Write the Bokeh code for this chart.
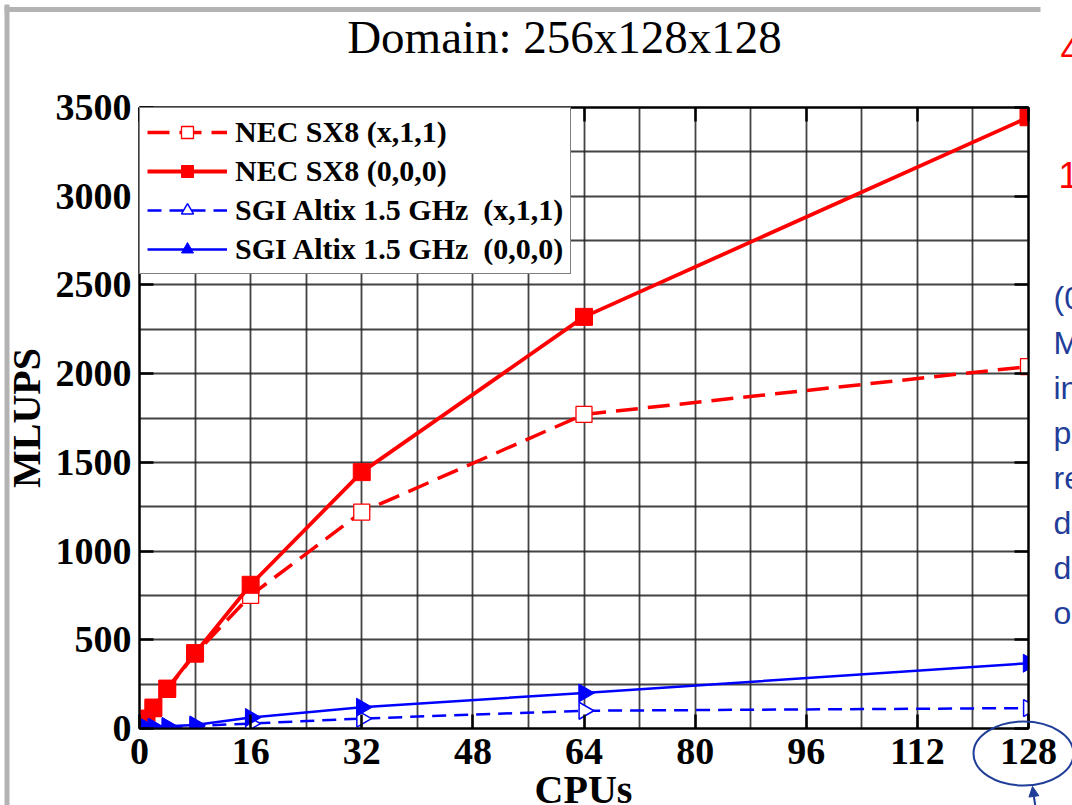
import numpy as np
from bokeh.plotting import figure
from bokeh.layouts import column
from bokeh.models import (Range1d, FixedTicker, LinearAxis, Legend, LegendItem,
                          GridBox, Arrow, NormalHead)
from bokeh.embed import file_html
from bokeh.resources import INLINE
from bokeh.core.properties import value

# ---- data ----
cpus = [1, 2, 4, 8, 16, 32, 64, 128]
nec_x11 = [52, 112, 220, 420, 750, 1220, 1770, 2040]
nec_000 = [56, 118, 225, 425, 810, 1445, 2320, 3445]
sgi_x11 = [2, 4, 7, 14, 28, 56, 100, 115]
sgi_000 = [4, 8, 12, 20, 62, 120, 200, 368]

x_ticks = [0, 16, 32, 48, 64, 80, 96, 112, 128]
x_minor = [8, 24, 40, 56, 72, 88, 104, 120]
y_ticks = [0, 500, 1000, 1500, 2000, 2500, 3000, 3500]
y_minor = [250, 750, 1250, 1750, 2250, 2750, 3250]

labels = ["NEC SX8 (x,1,1)", "NEC SX8 (0,0,0)",
          "SGI Altix 1.5 GHz  (x,1,1)", "SGI Altix 1.5 GHz  (0,0,0)"]
title_text = "Domain: 256x128x128"
xlabel_text = "CPUs"
side_red = ["4", "1"]
side_blue = ["(0", "M", "in", "p", "re", "d", "d", "o"]

SERIF = "Liberation Serif"
SANS = "Liberation Sans"
RED = "#ff0000"
BLUE = "#0000ff"
NAVY = "#1f3d99"
W, H = 1072, 805

# ---------------- main chart ----------------
p = figure(width=W, height=H, x_range=Range1d(0, 128), y_range=Range1d(0, 3500),
           output_backend="svg", toolbar_location=None,
           min_border_left=137, min_border_right=44, min_border_top=107, min_border_bottom=77,
           background_fill_color="white", border_fill_color="white",
           outline_line_color="black", outline_line_width=2)

for ax in p.xaxis + p.yaxis:
    ax.major_tick_in = 14
    ax.major_tick_out = 0
    ax.minor_tick_in = 0
    ax.minor_tick_out = 0
    ax.major_tick_line_width = 2.5
    ax.major_tick_line_color = "black"
    ax.axis_line_color = "black"
    ax.axis_line_width = 2
    ax.major_label_text_font = SERIF
    ax.major_label_text_font_style = "bold"
    ax.major_label_text_font_size = "38px"
    ax.major_label_text_color = "black"

p.xaxis.ticker = FixedTicker(ticks=x_ticks, minor_ticks=x_minor)
p.yaxis.ticker = FixedTicker(ticks=y_ticks, minor_ticks=y_minor)
p.xaxis.major_label_standoff = 10
p.yaxis.major_label_standoff = 8
p.yaxis.axis_label = "MLUPS"
p.yaxis.axis_label_standoff = 4
p.yaxis.axis_label_text_font = SERIF
p.yaxis.axis_label_text_font_style = "bold"
p.yaxis.axis_label_text_font_size = "40px"
p.yaxis.axis_label_text_color = "black"

# mirrored axes: inward ticks only, labels not drawn
for loc, tick, minor in (("right", y_ticks, y_minor), ("above", x_ticks, x_minor)):
    a = LinearAxis(ticker=FixedTicker(ticks=tick, minor_ticks=minor),
                   major_tick_in=14, major_tick_out=0, minor_tick_in=0, minor_tick_out=0,
                   major_tick_line_width=2.5, axis_line_width=2,
                   major_label_text_font_size="8px", major_label_text_color=None,
                   major_label_standoff=0)
    p.add_layout(a, loc)

for g in (p.xgrid[0], p.ygrid[0]):
    g.grid_line_color = "#222222"
    g.grid_line_width = 1.8
    g.grid_line_alpha = 0.85
    g.minor_grid_line_color = "#222222"
    g.minor_grid_line_width = 1.8
    g.minor_grid_line_alpha = 0.85
p.xgrid.ticker = FixedTicker(ticks=x_ticks, minor_ticks=x_minor)
p.ygrid.ticker = FixedTicker(ticks=y_ticks, minor_ticks=y_minor)

l1 = p.line(cpus, nec_x11, line_color=RED, line_width=3.5, line_dash="22 10")
m1 = p.scatter(cpus, nec_x11, marker="square", size=16, fill_color="white",
               line_color=RED, line_width=1.3)
l2 = p.line(cpus, nec_000, line_color=RED, line_width=3.8)
m2 = p.scatter(cpus, nec_000, marker="square", size=17, fill_color=RED, line_color=RED)
l3 = p.line(cpus, sgi_x11, line_color=BLUE, line_width=2.5, line_dash="14 8")
m3 = p.scatter(cpus, sgi_x11, marker="triangle", angle=-np.pi / 2, size=17,
               fill_color="white", line_color=BLUE, line_width=1.5)
l4 = p.line(cpus, sgi_000, line_color=BLUE, line_width=2.5)
m4 = p.scatter(cpus, sgi_000, marker="triangle", angle=-np.pi / 2, size=18,
               fill_color=BLUE, line_color=BLUE)

legend = Legend(items=[LegendItem(label=labels[0], renderers=[l1, m1]),
                       LegendItem(label=labels[1], renderers=[l2, m2]),
                       LegendItem(label=labels[2], renderers=[l3, m3]),
                       LegendItem(label=labels[3], renderers=[l4, m4])],
                location="top_left", margin=0, padding=7, spacing=5,
                glyph_width=80, glyph_height=30, label_height=30, label_standoff=8,
                label_text_font=SERIF, label_text_font_style="bold",
                label_text_font_size="30px", label_text_color="black",
                border_line_color="black", border_line_width=1.5,
                background_fill_color="white", background_fill_alpha=1)
p.add_layout(legend)

# ---------------- transparent overlay for page texts / decorations ----------------
# its frame covers the whole window; one unit = one pixel, y measured from the top
q = figure(width=W, height=H, x_range=Range1d(0, W), y_range=Range1d(H, 0),
           output_backend="svg", toolbar_location=None,
           min_border=0, background_fill_alpha=0, border_fill_alpha=0,
           outline_line_color=None)
q.axis.visible = False
q.grid.visible = False

q.text(x=[564], y=[36], text=[title_text], text_align="center", text_baseline="alphabetic",
       text_font=value(SERIF), text_font_size="47px", text_color="black")
q.text(x=[583], y=[789], text=[xlabel_text], text_align="center", text_baseline="alphabetic",
       text_font=value(SERIF), text_font_style="bold", text_font_size="40px", text_color="black")

# grey slide frame
q.segment(x0=[6.5, 4], y0=[4, 9], x1=[6.5, 1040], y1=[H, 9], line_color="#b3b3b3", line_width=5)

# ellipse around 128 and arrow
q.ellipse(x=[1023], y=[753], width=[100], height=[64], fill_alpha=0,
          line_color=NAVY, line_width=2)
q.add_layout(Arrow(x_start=1035, y_start=H + 2, x_end=1032, y_end=786,
                   line_color=NAVY, line_width=2,
                   end=NormalHead(size=10, fill_color=NAVY, line_color=NAVY)))

# side texts of the slide, cut by the window edge
q.text(x=[1060, 1058], y=[49, 174], text=side_red, text_font=value(SANS),
       text_font_size="36px", text_color=RED, text_baseline="alphabetic")
q.text(x=[1053] * len(side_blue), y=[297 + 45 * i for i in range(len(side_blue))],
       text=side_blue, text_font=value(SANS), text_font_size="32px",
       text_color=NAVY, text_baseline="alphabetic")

layout = GridBox(children=[(column(p), 0, 0), (column(q), 0, 0)])
open("out.html", "w").write(file_html(layout, INLINE))
